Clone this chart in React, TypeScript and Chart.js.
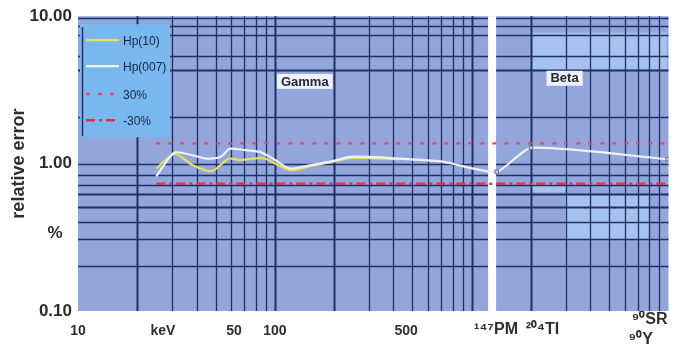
import React, { useEffect, useRef } from 'react';
import { Chart, registerables } from 'chart.js';

Chart.register(...registerables);

// ---------------- data ----------------
const hp10Energy = [25, 31, 38, 48, 58, 66, 84, 91, 119, 151, 197, 240, 303, 431];
const hp10Response = [0.925, 1.17, 0.98, 0.89, 1.08, 1.06, 1.09, 1.07, 0.905, 0.96, 1.03, 1.09, 1.09, 1.07];

const hp007Energy = [25, 31, 45, 53, 59, 69, 84, 98, 119, 151, 197, 240, 303, 431, 713, 1340, 2000, 9900];
const hp007Response = [0.82, 1.19, 1.08, 1.11, 1.26, 1.24, 1.2, 1.08, 0.925, 0.975, 1.04, 1.11, 1.11, 1.08, 1.03, 0.88, 1.28, 1.07];

const limitEnergy = [25, 10000];
const plus30 = [1.37, 1.37];
const minus30 = [0.73, 0.73];

const xTickValues = [10, 27, 62, 100, 465, 1330, 2290, 8020];
const xTickLabels: (string | string[])[] = ['10', 'keV', '50', '100', '500', '¹⁴⁷PM', '²⁰⁴TI', ['⁹⁰SR', '⁹⁰Y    ']];
const yTickValues = [0.1, 0.335, 1, 10];
const yTickLabels = ['0.10', '%  ', '1.00', '10.00'];

// horizontal rulings of the graph paper (values on the y scale)
const yPaperLines = [9.77, 8.63, 7.5, 5.41, 4.29, 2.07, 1.0, 0.84, 0.72, 0.625, 0.51, 0.404, 0.306, 0.201];

const betaStart = 1300; // beta sources drawn with markers
const gapValue = 1270; // white separator between gamma and beta
const regionLabels = ['Gamma', 'Beta'];
const regionX = [142, 2965];
const regionY = [3.61, 3.79];

// lighter patches of the graph paper
const patchX0 = [2000, 2980, 2000];
const patchX1 = [9800, 7950, 2980];
const patchY0 = [4.36, 0.306, 0.64];
const patchY1 = [7.74, 0.615, 0.72];

// ---------------- styles ----------------
const FONT = '"Liberation Sans", Arial, Helvetica, sans-serif';
const PAPER = '#93a6dc';
const PATCH = '#a6c2ee';
const GRID = '#1f3064';
const LEGEND_BG = '#79b8ee';

const paperPlugin = {
  id: 'paper',
  beforeDatasetsDraw(chart: any) {
    const { ctx, chartArea: a, scales } = chart;
    const xs = scales.x;
    const ys = scales.y;
    ctx.save();
    ctx.fillStyle = PAPER;
    ctx.fillRect(a.left, a.top, a.right - a.left, a.bottom - a.top);

    ctx.fillStyle = PATCH;
    for (let i = 0; i < patchX0.length; i++) {
      const x0 = xs.getPixelForValue(patchX0[i]);
      const x1 = xs.getPixelForValue(patchX1[i]);
      const y0 = ys.getPixelForValue(patchY0[i]);
      const y1 = ys.getPixelForValue(patchY1[i]);
      ctx.fillRect(Math.min(x0, x1), Math.min(y0, y1), Math.abs(x1 - x0), Math.abs(y1 - y0));
    }

    ctx.strokeStyle = GRID;
    // vertical lines (log rulings)
    for (let d = 1; d <= 4; d++) {
      for (let m = 1; m <= 9; m++) {
        const v = m * Math.pow(10, d);
        if (v <= xs.min || v >= xs.max) continue;
        const x = Math.round(xs.getPixelForValue(v)) + 0.5;
        ctx.lineWidth = m === 1 || m === 2 ? 2 : 1.3;
        ctx.beginPath();
        ctx.moveTo(x, a.top);
        ctx.lineTo(x, a.bottom);
        ctx.stroke();
      }
    }
    // horizontal lines
    yPaperLines.forEach((v, i) => {
      const y = Math.round(ys.getPixelForValue(v)) + 0.5;
      ctx.lineWidth = i === 4 || i === 9 || i === 10 ? 2 : 1.4;
      ctx.beginPath();
      ctx.moveTo(a.left, y);
      ctx.lineTo(a.right, y);
      ctx.stroke();
    });

    // white separator
    const gx = xs.getPixelForValue(gapValue);
    ctx.fillStyle = '#ffffff';
    ctx.fillRect(gx - 4, a.top, 8, a.bottom - a.top);
    ctx.restore();
  },
  afterDatasetsDraw(chart: any) {
    const { ctx, chartArea: a, scales } = chart;
    const ds = chart.data.datasets;
    ctx.save();
    // legend box
    const bx = a.left + 2;
    const by = a.top + 8;
    const bw = 90;
    const bh = 113;
    ctx.fillStyle = LEGEND_BG;
    ctx.fillRect(bx, by, bw, bh);
    ctx.strokeStyle = GRID;
    ctx.lineWidth = 1.5;
    ctx.beginPath();
    ctx.moveTo(bx + 2.5, by + 3);
    ctx.lineTo(bx + 2.5, by + bh - 1);
    ctx.stroke();
    const rows = [16, 42, 70, 96];
    ds.forEach((d: any, i: number) => {
      const y = by + rows[i];
      ctx.strokeStyle = d.borderColor;
      ctx.lineWidth = d.borderWidth;
      ctx.setLineDash(d.borderDash || []);
      ctx.beginPath();
      ctx.moveTo(bx + 6, y);
      ctx.lineTo(bx + 39, y);
      ctx.stroke();
      ctx.setLineDash([]);
      ctx.fillStyle = '#1b2347';
      ctx.font = '12px ' + FONT;
      ctx.textBaseline = 'middle';
      ctx.textAlign = 'left';
      ctx.fillText(d.label, bx + 43, y + 1);
    });

    // region labels
    ctx.font = 'bold 13px ' + FONT;
    ctx.textAlign = 'center';
    ctx.textBaseline = 'middle';
    for (let i = 0; i < regionLabels.length; i++) {
      const x = scales.x.getPixelForValue(regionX[i]);
      const y = scales.y.getPixelForValue(regionY[i]);
      const w = ctx.measureText(regionLabels[i]).width + 8;
      ctx.fillStyle = '#eef2f9';
      ctx.fillRect(x - w / 2, y - 7.5, w, 15);
      ctx.fillStyle = '#23273a';
      ctx.fillText(regionLabels[i], x, y + 0.5);
    }
    ctx.restore();
  },
};

export default function App() {
  const ref = useRef<HTMLCanvasElement>(null);

  useEffect(() => {
    Chart.defaults.font.family = FONT;
    const chart = new Chart(ref.current as HTMLCanvasElement, {
      type: 'line',
      data: {
        datasets: [
          {
            label: 'Hp(10)',
            data: hp10Energy.map((x, i) => ({ x, y: hp10Response[i] })),
            borderColor: '#e8e05a',
            borderWidth: 2.2,
            pointRadius: 0,
            tension: 0.25,
            order: 2,
          },
          {
            label: 'Hp(007)',
            data: hp007Energy.map((x, i) => ({ x, y: hp007Response[i] })),
            borderColor: '#eef2fa',
            borderWidth: 2.2,
            tension: 0.2,
            pointStyle: 'rect',
            pointRadius: (c: any) => (c.raw && c.raw.x >= betaStart ? 2.5 : 0),
            pointBackgroundColor: '#c9cdd8',
            pointBorderColor: '#6b7182',
            pointBorderWidth: 1,
            order: 1,
          },
          {
            label: '30%',
            data: limitEnergy.map((x, i) => ({ x, y: plus30[i] })),
            borderColor: '#e8425e',
            borderWidth: 2.2,
            borderDash: [4, 8],
            pointRadius: 0,
            order: 3,
          },
          {
            label: '-30%',
            data: limitEnergy.map((x, i) => ({ x, y: minus30[i] })),
            borderColor: '#e52f47',
            borderWidth: 2.5,
            borderDash: [9, 4, 3, 4],
            pointRadius: 0,
            order: 3,
          },
        ] as any,
      },
      options: {
        animation: false,
        responsive: true,
        maintainAspectRatio: false,
        layout: { padding: { top: 14, right: 11, left: 0, bottom: 0 } },
        plugins: { legend: { display: false }, tooltip: { enabled: false } },
        scales: {
          x: {
            type: 'logarithmic',
            min: 10,
            max: 10000,
            border: { display: false },
            grid: { display: false, drawTicks: false },
            afterBuildTicks: (s: any) => {
              s.ticks = xTickValues.map((v) => ({ value: v }));
            },
            afterFit: (s: any) => {
              s.height = 34;
            },
            ticks: {
              autoSkip: false,
              maxRotation: 0,
              minRotation: 0,
              padding: 9,
              color: '#2e2e2e',
              crossAlign: 'center',
              font: (c: any) => ({ size: c.index >= 5 ? 16 : 14, weight: 'bold', family: FONT }),
              callback: (_v: any, i: number) => xTickLabels[i],
            },
          },
          y: {
            type: 'logarithmic',
            min: 0.1,
            max: 10,
            border: { display: false },
            grid: { display: false, drawTicks: false },
            afterBuildTicks: (s: any) => {
              s.ticks = yTickValues.map((v) => ({ value: v }));
            },
            afterFit: (s: any) => {
              s.width = 78;
            },
            title: {
              display: true,
              text: 'relative error',
              color: '#2e2e2e',
              font: { size: 18, weight: 'bold', family: FONT },
              padding: { top: 8, bottom: 0 },
            },
            ticks: {
              autoSkip: false,
              padding: 6,
              color: '#2b2b2b',
              font: { size: 17, weight: 'bold', family: FONT },
              callback: (_v: any, i: number) => yTickLabels[i],
            },
          },
        },
      } as any,
      plugins: [paperPlugin],
    });
    return () => chart.destroy();
  }, []);

  return (
    <div style={{ position: 'fixed', left: 0, top: 0, width: 680, height: 345, background: '#ffffff' }}>
      <canvas ref={ref} />
    </div>
  );
}
